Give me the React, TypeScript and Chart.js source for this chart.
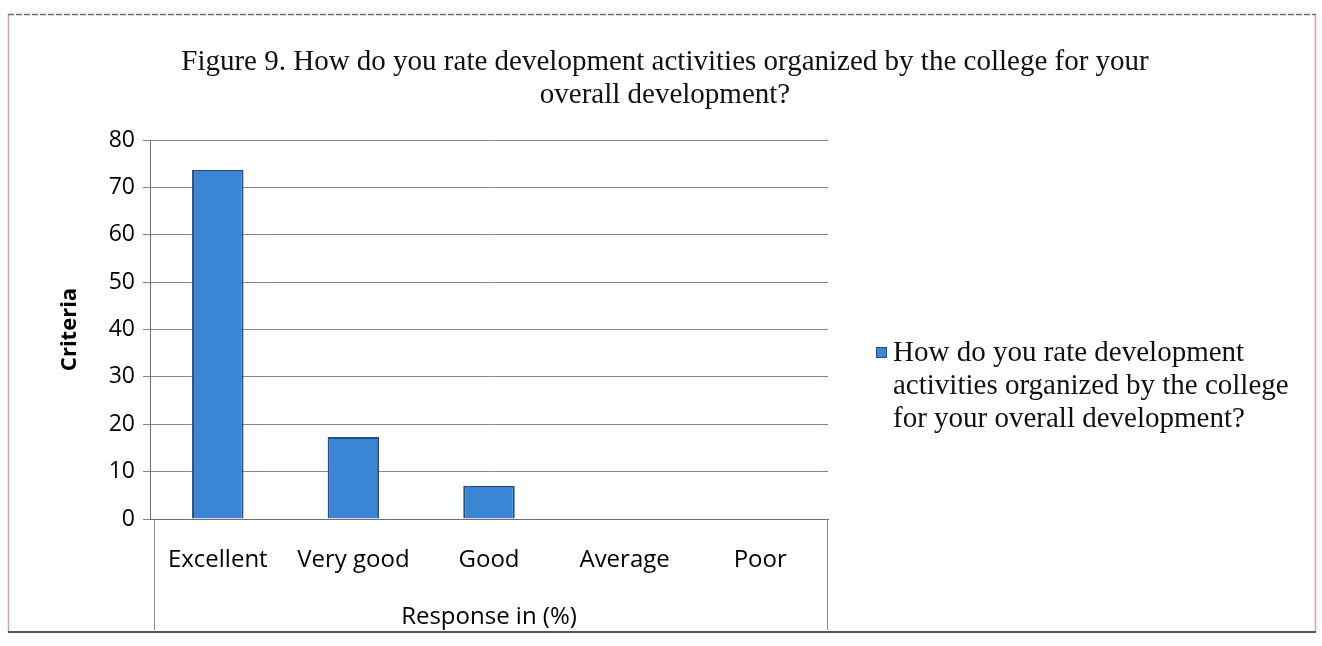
import React, { useEffect, useRef } from "react";
import { Chart, registerables, layouts } from "chart.js";

Chart.register(...registerables);

const categories = ["Excellent", "Very good", "Good", "Average", "Poor"];
const responses = [73.7, 17.3, 7.0, 0, 0];
const yMin = 0;
const yMax = 80;
const yStep = 10;
const titleLines = [
  "Figure 9. How do you rate development activities organized by the college for your",
  "overall development?",
];
const seriesName =
  "How do you rate development activities organized by the college for your overall development?";
const legendLines = [
  "How do you rate development",
  "activities organized by the college",
  "for your overall development?",
];
const xAxisTitle = "Response in (%)";
const yAxisTitle = "Criteria";

const LEGEND_SPACE = 494;

const spacerPlugin = {
  id: "legendSpacer",
  beforeInit(chart: any) {
    const box: any = {
      position: "right",
      weight: 0,
      fullSize: false,
      options: {},
      top: 0,
      left: 0,
      right: 0,
      bottom: 0,
      width: 0,
      height: 0,
      isHorizontal() {
        return false;
      },
      update(maxWidth: number, maxHeight: number) {
        this.width = LEGEND_SPACE;
        this.height = maxHeight;
      },
      draw() {},
    };
    layouts.addBox(chart, box);
  },
};

const framePlugin = {
  id: "frame",
  beforeDraw(chart: any) {
    const ctx = chart.ctx;
    const { left, right, bottom } = chart.chartArea;
    ctx.save();
    ctx.fillStyle = "#ffffff";
    ctx.fillRect(0, 0, chart.width, chart.height);
    ctx.lineWidth = 1.5;
    ctx.strokeStyle = "#d8a2ab";
    ctx.beginPath();
    ctx.moveTo(8.5, 14);
    ctx.lineTo(8.5, 632);
    ctx.moveTo(1315.5, 14);
    ctx.lineTo(1315.5, 632);
    ctx.stroke();
    ctx.strokeStyle = "#6f6f6f";
    ctx.lineWidth = 1.5;
    ctx.setLineDash([6, 2]);
    ctx.beginPath();
    ctx.moveTo(8, 14.5);
    ctx.lineTo(1316, 14.5);
    ctx.stroke();
    ctx.setLineDash([]);
    ctx.strokeStyle = "#555555";
    ctx.lineWidth = 2;
    ctx.beginPath();
    ctx.moveTo(8, 632);
    ctx.lineTo(1316, 632);
    ctx.stroke();
    ctx.strokeStyle = "#8a8a8a";
    ctx.lineWidth = 1;
    ctx.beginPath();
    ctx.moveTo(Math.round(left) + 4.5, bottom);
    ctx.lineTo(Math.round(left) + 4.5, 630);
    ctx.moveTo(Math.round(right) - 0.5, bottom);
    ctx.lineTo(Math.round(right) - 0.5, 630);
    ctx.stroke();
    ctx.restore();
  },
};

const sansFont = "'Open Sans', Lato, sans-serif";
const serifFont = "'Liberation Serif', 'Times New Roman', serif";

export default function App() {
  const canvasRef = useRef<HTMLCanvasElement | null>(null);

  useEffect(() => {
    if (!canvasRef.current) return;
    const chart = new Chart(canvasRef.current, {
      type: "bar",
      data: {
        labels: categories,
        datasets: [
          {
            label: seriesName,
            data: responses,
            backgroundColor: "#3a86d4",
            borderColor: "#1f4f8c",
            borderWidth: 2,
            barPercentage: 0.38,
            categoryPercentage: 1,
          },
        ],
      },
      options: {
        responsive: false,
        animation: false,
        devicePixelRatio: 1,
        layout: { padding: { left: 8, right: 0, top: 0, bottom: 0 } },
        plugins: {
          legend: { display: false },
          tooltip: { enabled: false },
          title: {
            display: true,
            text: titleLines,
            color: "#111111",
            font: { family: serifFont, size: 29, lineHeight: 33 / 29, weight: "normal" },
            padding: { top: 46, bottom: 28 },
          },
        },
        scales: {
          x: {
            grid: { display: false, drawTicks: false },
            border: { display: true, color: "#6e6e6e", width: 1 },
            ticks: {
              color: "#000000",
              padding: 27,
              font: { family: sansFont, size: 24 },
              maxRotation: 0,
            },
            title: {
              display: true,
              text: xAxisTitle,
              color: "#000000",
              font: { family: sansFont, size: 24 },
              padding: { top: 0, bottom: 14 },
            },
            afterFit(scale: any) {
              scale.height = 127;
            },
          },
          y: {
            min: yMin,
            max: yMax,
            ticks: {
              stepSize: yStep,
              color: "#000000",
              padding: 8,
              font: { family: sansFont, size: 23 },
            },
            grid: { color: "#8c8486", lineWidth: 1, tickLength: 7, drawTicks: true },
            border: { display: true, color: "#6e6e6e", width: 1 },
            title: {
              display: true,
              text: yAxisTitle,
              color: "#000000",
              font: { family: sansFont, size: 22, weight: "bold" },
              padding: { top: 49, bottom: 0 },
            },
            afterFit(scale: any) {
              scale.width = 142;
            },
          },
        },
      },
      plugins: [spacerPlugin, framePlugin],
    });
    return () => chart.destroy();
  }, []);

  return (
    <div style={{ position: "fixed", left: 0, top: 0, width: 1322, height: 646, background: "#fff" }}>
      <canvas ref={canvasRef} width={1322} height={646} style={{ display: "block" }} />
      <div
        style={{
          position: "absolute",
          left: 876,
          top: 335,
          fontFamily: serifFont,
          fontSize: 29,
          lineHeight: "33px",
          color: "#111",
        }}
      >
        <span
          style={{
            position: "absolute",
            left: 0,
            top: 12,
            width: 9,
            height: 9,
            background: "#3a86d4",
            border: "1px solid #1f4f8c",
          }}
        />
        <div style={{ paddingLeft: 17 }}>
          {legendLines.map((l, i) => (
            <div key={i} style={{ whiteSpace: "nowrap" }}>
              {l}
            </div>
          ))}
        </div>
      </div>
    </div>
  );
}
